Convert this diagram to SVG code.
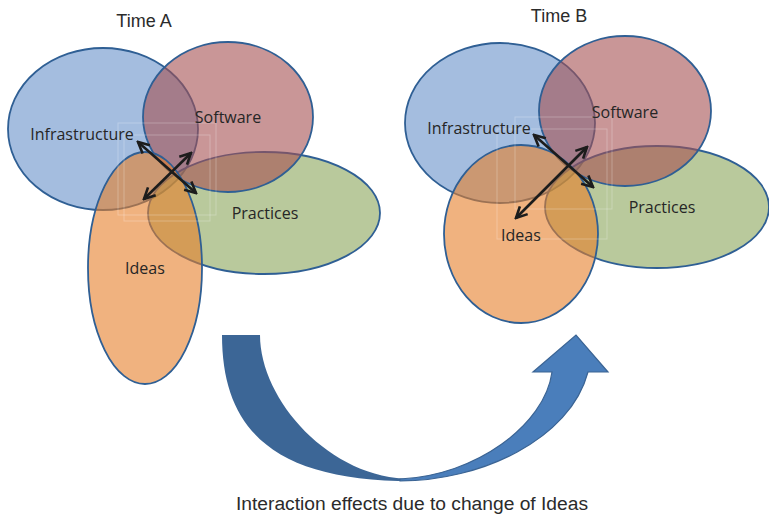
<svg xmlns="http://www.w3.org/2000/svg" width="769" height="518" viewBox="0 0 769 518">
<style>
.el{stroke:#2f5f94;stroke-width:1.8;fill-opacity:0.6}
.inf{fill:#6791ca}
.sw{fill:#a55052}
.pr{fill:#8aa55a}
.id{fill:#e67f2a}
.lbl{font-family:"Open Sans","Noto Sans",sans-serif;font-size:16px;fill:#262626}
.ttl{font-family:"Liberation Sans",Arial,sans-serif;font-size:18px;fill:#2b2b2b}
.cap{font-family:"Liberation Sans",Arial,sans-serif;font-size:18px;fill:#2b2b2b}
.faint{fill:none;stroke:#ffffff;stroke-opacity:0.25;stroke-width:1}
.dbl{stroke:#1c1c1c;stroke-width:2.6;fill:none;marker-start:url(#ah);marker-end:url(#ah)}
</style>
<defs>
<marker id="ah" viewBox="-14 -8 16 16" refX="0" refY="0" markerWidth="16" markerHeight="16" markerUnits="userSpaceOnUse" orient="auto-start-reverse">
<path d="M-11,-5.5 L0,0 L-11,5.5" fill="none" stroke="#1c1c1c" stroke-width="2.6"/>
</marker>
</defs>

<rect width="769" height="518" fill="#ffffff"/>

<g id="timeA">
<text class="ttl" x="144" y="27" text-anchor="middle">Time A</text>
<g id="A-infrastructure"><ellipse class="el inf" cx="103" cy="129" rx="95" ry="81"/></g>
<g id="A-practices"><ellipse class="el pr" cx="264" cy="213" rx="116" ry="61"/></g>
<g id="A-software"><ellipse class="el sw" cx="228" cy="117" rx="85" ry="75"/></g>
<g id="A-ideas"><ellipse class="el id" cx="145" cy="268" rx="57" ry="116"/></g>
<rect class="faint" x="118" y="123" width="98" height="92"/>
<rect class="faint" x="124" y="135" width="86" height="86"/>
<text class="lbl" x="82" y="140" text-anchor="middle">Infrastructure</text>
<text class="lbl" x="228" y="123" text-anchor="middle">Software</text>
<text class="lbl" x="265" y="219" text-anchor="middle">Practices</text>
<text class="lbl" x="145" y="274" text-anchor="middle">Ideas</text>
</g>

<g id="timeB">
<text class="ttl" x="559" y="22" text-anchor="middle">Time B</text>
<g id="B-infrastructure"><ellipse class="el inf" cx="500" cy="123" rx="95" ry="80"/></g>
<g id="B-practices"><ellipse class="el pr" cx="657" cy="207" rx="112" ry="61"/></g>
<g id="B-software"><ellipse class="el sw" cx="625" cy="111" rx="86" ry="75"/></g>
<g id="B-ideas"><ellipse class="el id" cx="521" cy="234" rx="77" ry="89"/></g>
<rect class="faint" x="515" y="117" width="97" height="92"/>
<rect class="faint" x="497" y="129" width="110" height="110"/>
<text class="lbl" x="479" y="134" text-anchor="middle">Infrastructure</text>
<text class="lbl" x="625" y="118" text-anchor="middle">Software</text>
<text class="lbl" x="662" y="213" text-anchor="middle">Practices</text>
<text class="lbl" x="521" y="241" text-anchor="middle">Ideas</text>
</g>

<g id="connectors">
<line class="dbl" x1="138" y1="142" x2="196" y2="193"/>
<line class="dbl" x1="191" y1="153" x2="144" y2="199"/>
<line class="dbl" x1="534" y1="135" x2="593" y2="187"/>
<line class="dbl" x1="587" y1="147" x2="516" y2="218"/>
</g>

<g id="change-arrow">
<path d="M222,335 L260,335 C260,400 330,479 412,479 L412,481 C280,481 222,435 222,335 Z" fill="#3c6696"/>
<path d="M400,481 C480,481 570,440 588,372 L608,372 L576,335 L533,372 L552,372 C545,425 475,476 400,479 Z" fill="#4a7ebb" stroke="#3b6494" stroke-width="1.2" stroke-linejoin="miter"/>
</g>
<text class="cap" x="412" y="510" text-anchor="middle" textLength="352" lengthAdjust="spacingAndGlyphs">Interaction effects due to change of Ideas</text>
</svg>
